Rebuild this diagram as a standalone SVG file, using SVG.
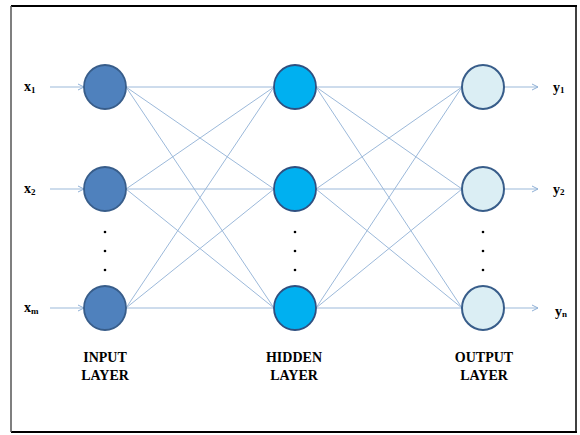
<svg xmlns="http://www.w3.org/2000/svg" width="580" height="435" viewBox="0 0 580 435">
<defs>
<marker id="arr" markerWidth="8" markerHeight="8" refX="7" refY="4" orient="auto" markerUnits="userSpaceOnUse">
<path d="M1,1 L7,4 L1,7" fill="none" stroke="#8fb0d6" stroke-width="1"/>
</marker>
<style>
.lnk{stroke:#9cb9da;stroke-width:1;fill:none}
.io{stroke:#9cb9da;stroke-width:1.2;fill:none;marker-end:url(#arr)}
.in{fill:#4f81bd;stroke:#385d8a;stroke-width:1.8}
.hid{fill:#00b0f0;stroke:#2f5080;stroke-width:1.8}
.out{fill:#dbeef4;stroke:#385d8a;stroke-width:2}
.lbl{font-family:"Liberation Serif",serif;font-weight:bold;font-size:14px;fill:#000}
.sub{font-size:9px}
.ttl{font-family:"Liberation Serif",serif;font-weight:bold;font-size:14px;fill:#000;text-anchor:middle}
.dot{fill:#000}
</style>
</defs>
<rect width="580" height="435" fill="#fff"/>
<g id="frame">
<line x1="11" y1="6" x2="577" y2="6" stroke="#000" stroke-width="2"/>
<line x1="576" y1="6" x2="576" y2="432" stroke="#000" stroke-width="1.5"/>
<line x1="11" y1="432" x2="577" y2="432" stroke="#000" stroke-width="2"/>
<line x1="11" y1="6" x2="11" y2="432" stroke="#555" stroke-width="1.5"/>
</g>
<g id="connectors">
<line class="io" x1="50" y1="87" x2="84" y2="87"/>
<line class="io" x1="50" y1="189" x2="84" y2="189"/>
<line class="io" x1="50" y1="308" x2="84" y2="308"/>
<line class="io" x1="504" y1="87" x2="538" y2="87"/>
<line class="io" x1="504" y1="189" x2="538" y2="189"/>
<line class="io" x1="504" y1="308" x2="538" y2="308"/>
<line class="lnk" x1="126" y1="87" x2="274" y2="87"/>
<line class="lnk" x1="126" y1="87" x2="274" y2="189"/>
<line class="lnk" x1="126" y1="87" x2="274" y2="308"/>
<line class="lnk" x1="126" y1="189" x2="274" y2="87"/>
<line class="lnk" x1="126" y1="189" x2="274" y2="189"/>
<line class="lnk" x1="126" y1="189" x2="274" y2="308"/>
<line class="lnk" x1="126" y1="308" x2="274" y2="87"/>
<line class="lnk" x1="126" y1="308" x2="274" y2="189"/>
<line class="lnk" x1="126" y1="308" x2="274" y2="308"/>
<line class="lnk" x1="316" y1="87" x2="462" y2="87"/>
<line class="lnk" x1="316" y1="87" x2="462" y2="189"/>
<line class="lnk" x1="316" y1="87" x2="462" y2="308"/>
<line class="lnk" x1="316" y1="189" x2="462" y2="87"/>
<line class="lnk" x1="316" y1="189" x2="462" y2="189"/>
<line class="lnk" x1="316" y1="189" x2="462" y2="308"/>
<line class="lnk" x1="316" y1="308" x2="462" y2="87"/>
<line class="lnk" x1="316" y1="308" x2="462" y2="189"/>
<line class="lnk" x1="316" y1="308" x2="462" y2="308"/>
</g>
<g id="input-1"><ellipse class="in" cx="105" cy="87" rx="21" ry="22"/><text class="lbl" x="24" y="91">x<tspan class="sub" dy="2">1</tspan></text></g>
<g id="input-2"><ellipse class="in" cx="105" cy="189" rx="21" ry="22"/><text class="lbl" x="24" y="193">x<tspan class="sub" dy="2">2</tspan></text></g>
<g id="input-m"><ellipse class="in" cx="105" cy="308" rx="21" ry="22"/><text class="lbl" x="24" y="312">x<tspan class="sub" dy="2">m</tspan></text></g>
<g id="input-dots"><circle class="dot" cx="105" cy="232" r="1.3"/><circle class="dot" cx="105" cy="251" r="1.3"/><circle class="dot" cx="105" cy="270" r="1.3"/></g>
<g id="hidden-1"><ellipse class="hid" cx="295" cy="87" rx="21" ry="22"/></g>
<g id="hidden-2"><ellipse class="hid" cx="295" cy="189" rx="21" ry="22"/></g>
<g id="hidden-3"><ellipse class="hid" cx="295" cy="308" rx="21" ry="22"/></g>
<g id="hidden-dots"><circle class="dot" cx="295" cy="232" r="1.3"/><circle class="dot" cx="295" cy="251" r="1.3"/><circle class="dot" cx="295" cy="270" r="1.3"/></g>
<g id="output-1"><ellipse class="out" cx="483" cy="87" rx="21" ry="22"/><text class="lbl" x="553" y="92">y<tspan class="sub" dy="1">1</tspan></text></g>
<g id="output-2"><ellipse class="out" cx="483" cy="189" rx="21" ry="22"/><text class="lbl" x="553" y="194">y<tspan class="sub" dy="1">2</tspan></text></g>
<g id="output-n"><ellipse class="out" cx="483" cy="308" rx="21" ry="22"/><text class="lbl" x="555" y="316">y<tspan class="sub" dy="1">n</tspan></text></g>
<g id="output-dots"><circle class="dot" cx="483" cy="232" r="1.3"/><circle class="dot" cx="483" cy="251" r="1.3"/><circle class="dot" cx="483" cy="270" r="1.3"/></g>
<g id="layer-labels">
<text class="ttl" x="105" y="362">INPUT</text><text class="ttl" x="105" y="380">LAYER</text>
<text class="ttl" x="294" y="362">HIDDEN</text><text class="ttl" x="294" y="380">LAYER</text>
<text class="ttl" x="484" y="362">OUTPUT</text><text class="ttl" x="484" y="380">LAYER</text>
</g>
</svg>
